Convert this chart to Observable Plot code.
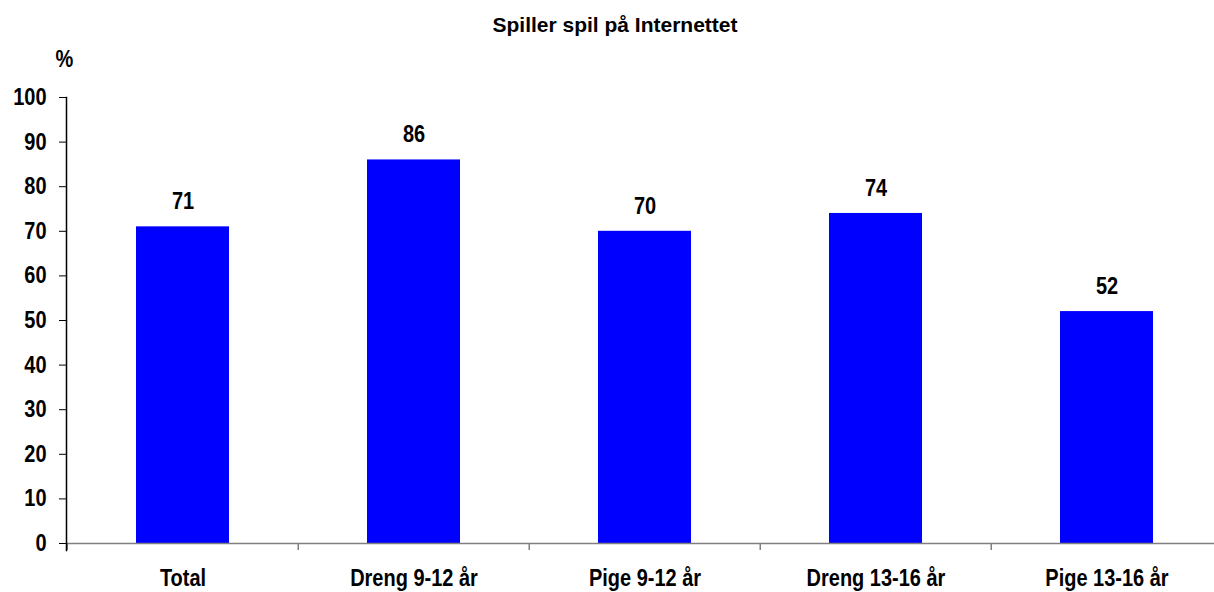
<!DOCTYPE html>
<html>
<head>
<meta charset="utf-8">
<script src="https://cdn.jsdelivr.net/npm/d3@7"></script>
<script src="https://cdn.jsdelivr.net/npm/@observablehq/plot@0.6"></script>
<style>
  html, body { margin: 0; padding: 0; background: #fff; overflow: hidden; }
  body { width: 1214px; height: 592px; font-family: "Liberation Sans", Arial, sans-serif; }
  #title { height: 48px; width: 1214px; text-align: center; font-weight: bold; font-size: 21px; line-height: 50px; padding-left: 16px; box-sizing: border-box; color: #000; }
</style>
</head>
<body>
<div id="title">Spiller spil på Internettet</div>
<div id="chart"></div>
<script>
const categories = ["Total", "Dreng 9-12 år", "Pige 9-12 år", "Dreng 13-16 år", "Pige 13-16 år"];
const values = [71, 86, 70, 74, 52];
const yTicks = [0, 10, 20, 30, 40, 50, 60, 70, 80, 90, 100];
const yUnit = "%";

const data = categories.map((c, i) => ({category: c, value: values[i]}));
const xRange = [66, 1223.5];
const xScale = Plot.scale({x: {type: "band", domain: categories, range: xRange, padding: 0}});
const bw = xScale.bandwidth;
const font = "'Liberation Sans', Arial, sans-serif";
const fs = 23.5;

const chart = Plot.plot({
  width: 1214,
  height: 544,
  marginTop: 49,
  marginBottom: 49,
  marginLeft: 66,
  marginRight: 0,
  style: {fontFamily: font, fontWeight: "bold", fontSize: fs + "px", color: "#000", background: "#fff", overflow: "visible"},
  x: {type: "band", domain: categories, range: xRange, padding: 0},
  y: {domain: [0, 100], ticks: yTicks},
  marks: [
    Plot.barY(data, {x: "category", y: "value", fill: "#0000ff", insetLeft: 69, insetRight: 69}),
    Plot.ruleY([0], {stroke: "#808080", strokeWidth: 1.5}),
    Plot.ruleX(categories, {x: d => d, y1: 0, y2: 0, insetBottom: -7, dx: -bw / 2, stroke: "#808080", strokeWidth: 1.5}),
    Plot.frame({anchor: "left", stroke: "#000", strokeWidth: 1.5, insetBottom: -7}),
    Plot.axisY({ticks: yTicks, tickSize: 7, tickPadding: 13, tickFormat: d => d, label: null, fontSize: fs, stroke: "#000"}),
    Plot.axisX({tickSize: 0, tickPadding: 26, label: null, fontSize: fs}),
    Plot.text([yUnit], {frameAnchor: "top-left", text: d => d, dx: -2, dy: -47, fontSize: fs, fontWeight: "bold", textAnchor: "middle"}),
    Plot.text(data, {x: "category", y: "value", text: d => String(d.value), lineAnchor: "bottom", dy: -17.5, fontSize: fs, fontWeight: "bold", fill: "#000"})
  ]
});
document.getElementById("chart").appendChild(chart);
// emulate a narrow bold face by compressing glyphs horizontally
chart.querySelectorAll("text").forEach(t => {
  const len = t.getComputedTextLength();
  if (len > 0) {
    t.setAttribute("textLength", (len * 0.85).toFixed(2));
    t.setAttribute("lengthAdjust", "spacingAndGlyphs");
  }
});
</script>
</body>
</html>
